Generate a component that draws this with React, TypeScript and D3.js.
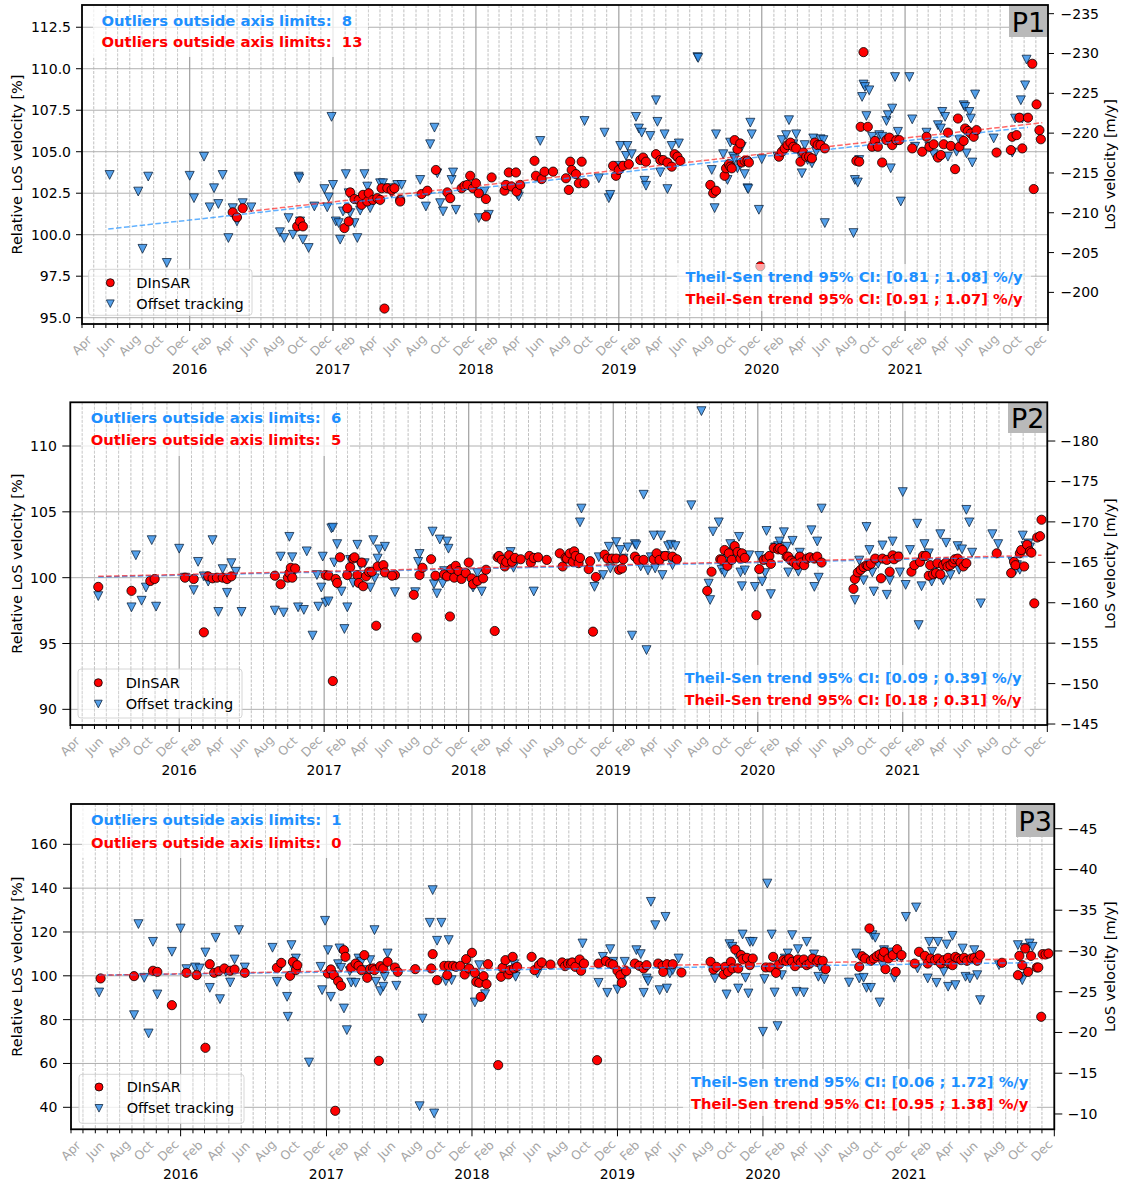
import React, { useEffect } from 'react';
import * as d3 from 'd3';

// ---------- DATA (decimal year, relative LoS velocity %) ----------
const p1Offset: [number, number][] = [
  [2015.44,103.6],[2015.64,102.6],[2015.67,99.15],[2015.71,103.5],[2015.84,98.3],[2016.0,103.55],[2016.03,102.2],[2016.10,104.7],[2016.17,102.8],[2016.14,101.65],[2016.20,101.85],[2016.23,103.6],[2016.27,99.8],[2016.30,101.6],[2016.33,100.8],[2016.37,101.9],[2016.43,101.65],[2016.63,100.15],[2016.66,99.8],[2016.69,101.0],[2016.72,100.0],[2016.76,103.5],[2016.765,103.4],[2016.77,100.8],[2016.79,99.7],[2016.83,99.2],[2016.87,101.7],[2016.94,102.75],[2016.97,102.25],[2016.96,101.65],[2017.0,103.0],[2016.99,107.1],[2017.02,100.8],[2017.04,100.7],[2017.05,99.7],[2017.07,101.4],[2017.09,103.65],[2017.11,102.5],[2017.12,101.3],[2017.15,100.7],[2017.17,99.8],[2017.19,101.45],[2017.22,103.65],[2017.24,102.9],[2017.26,101.6],[2017.33,103.1],[2017.35,103.1],[2017.39,102.8],[2017.41,102.5],[2017.45,103.0],
  [2017.48,103.0],[2017.61,103.3],[2017.65,101.7],[2017.68,105.45],[2017.71,106.45],[2017.73,103.7],[2017.75,101.9],[2017.77,101.4],[2017.83,103.3],[2017.84,103.75],[2017.86,101.5],[2018.02,101.0],[2018.06,102.6],[2018.09,101.2],[2018.29,102.4],[2018.30,102.3],[2018.45,105.65],[2018.76,106.85],[2018.86,103.4],[2018.90,106.15],[2018.93,102.2],[2018.94,102.4],[2019.01,105.35],[2019.06,105.35],[2019.05,104.75],[2019.09,104.85],[2019.0,104.15],[2019.12,107.1],[2019.14,106.4],[2019.16,106.15],[2019.18,103.25],[2019.19,102.95],[2019.22,105.95],[2019.26,108.1],[2019.27,106.8],[2019.29,103.75],[2019.32,106.05],[2019.34,102.75],[2019.37,105.35],[2019.39,104.7],[2019.42,105.5],[2019.55,110.7],[2019.555,110.65],[2019.65,103.9],[2019.67,101.6],[2019.68,106.05],
  [2019.73,104.85],[2019.76,103.3],[2019.78,105.55],[2019.80,104.7],[2019.81,104.55],[2019.83,104.0],[2019.85,104.2],[2019.86,105.3],[2019.88,103.65],[2019.90,102.8],[2019.905,102.75],[2019.92,106.75],[2019.93,106.05],[2019.98,101.5],[2020.0,104.55],[2020.11,104.7],[2020.14,105.7],[2020.17,106.0],[2020.19,106.9],[2020.22,105.45],[2020.24,106.05],[2020.27,104.8],[2020.28,103.7],[2020.30,105.4],[2020.32,104.5],[2020.35,104.3],[2020.36,105.8],[2020.38,105.0],[2020.41,105.75],[2020.43,105.7],[2020.44,100.7],[2020.64,100.1],[2020.65,103.3],[2020.67,103.15],[2020.68,104.5],[2020.70,108.3],[2020.71,109.05],[2020.72,108.9],[2020.75,108.7],[2020.73,107.15],[2020.77,105.9],[2020.79,105.4],[2020.82,106.0],[2020.84,105.9],[2020.87,106.85],[2020.88,107.2],[2020.90,104.0],[2020.91,107.6],[2020.93,109.5],[2020.95,106.2],[2020.97,102.0],[2021.03,109.5],[2021.05,106.95],[2021.07,105.3],[2021.15,106.15],[2021.17,105.3],[2021.20,104.85],[2021.23,106.6],[2021.25,106.4],[2021.26,107.4],[2021.28,107.1],[2021.30,104.7],[2021.36,105.0],[2021.38,105.7],[2021.41,107.8],[2021.42,107.7],[2021.43,104.9],[2021.45,107.4],[2021.46,107.0],[2021.47,104.35],[2021.49,108.45],[2021.62,105.8],[2021.75,104.95],[2021.77,107.0],[2021.81,108.1],[2021.82,107.0],[2021.84,109.0],[2021.85,110.55]
];
const p1Dinsar: [number, number][] = [
  [2016.30,101.35],[2016.33,101.05],[2016.37,101.6],[2016.75,100.5],[2016.77,100.8],[2016.79,100.5],[2017.08,100.4],[2017.10,101.6],[2017.11,100.8],[2017.12,102.55],[2017.15,102.15],[2017.18,102.1],[2017.20,101.8],[2017.21,102.4],[2017.24,102.0],[2017.25,102.5],[2017.28,102.1],[2017.31,102.2],[2017.33,102.1],[2017.34,102.8],[2017.38,102.8],[2017.41,102.7],[2017.43,102.8],[2017.47,102.1],[2017.36,95.55],
  [2017.47,102.0],[2017.62,102.45],[2017.66,102.65],[2017.72,103.9],[2017.80,102.55],[2017.82,102.2],[2017.90,102.8],[2017.92,102.95],[2017.94,103.0],[2017.96,103.55],[2017.98,102.8],[2018.0,103.1],[2018.02,102.5],[2018.07,102.15],[2018.11,103.45],[2018.07,101.1],[2018.20,102.65],[2018.21,103.0],[2018.23,103.75],[2018.25,102.9],[2018.28,103.75],[2018.285,102.6],[2018.31,103.0],[2018.41,104.45],[2018.42,103.55],[2018.46,103.35],[2018.48,103.8],[2018.54,103.8],[2018.63,103.4],[2018.65,102.7],[2018.66,104.4],[2018.67,103.9],[2018.70,103.65],[2018.72,103.1],[2018.74,104.4],[2018.76,103.1],[2018.96,104.15],[2018.98,103.55],[2019.0,103.9],[2019.03,104.15],[2019.07,104.25],[2019.15,104.5],[2019.17,104.65],[2019.19,104.4],[2019.26,104.85],[2019.29,104.5],[2019.31,104.5],[2019.34,104.35],[2019.37,104.1],[2019.39,104.85],[2019.41,104.7],[2019.43,104.45],[2019.64,103.0],[2019.66,102.5],[2019.68,102.65],
  [2019.74,103.55],[2019.75,104.0],[2019.77,104.25],[2019.78,104.1],[2019.79,104.0],[2019.81,105.7],[2019.83,105.15],[2019.85,105.5],[2019.86,104.35],[2019.88,104.45],[2019.90,104.45],[2019.91,104.35],[2019.99,98.1],[2020.12,104.7],[2020.14,105.0],[2020.16,105.2],[2020.18,105.4],[2020.20,105.55],[2020.22,105.3],[2020.24,105.2],[2020.27,104.4],[2020.29,104.95],[2020.31,104.7],[2020.33,104.7],[2020.35,104.6],[2020.37,105.55],[2020.39,105.4],[2020.41,105.4],[2020.44,105.2],[2020.66,104.45],[2020.68,104.4],[2020.69,106.5],[2020.71,111.0],[2020.74,106.5],[2020.77,105.3],[2020.79,105.65],[2020.81,105.3],[2020.84,104.35],[2020.87,105.7],[2020.89,105.85],[2020.91,105.4],[2020.94,105.7],[2020.96,105.7],[2021.05,105.2],[2021.12,105.0],[2021.15,105.9],[2021.17,105.3],[2021.20,105.45],[2021.23,104.65],[2021.25,104.8],[2021.27,105.45],[2021.30,106.15],[2021.32,105.35],[2021.35,103.95],[2021.37,107.0],[2021.38,105.3],[2021.41,105.65],[2021.42,106.4],[2021.44,106.25],[2021.46,106.1],[2021.48,105.9],[2021.50,106.3],[2021.64,104.95],[2021.74,105.1],[2021.75,105.9],[2021.78,106.0],[2021.80,107.05],[2021.82,105.2],[2021.86,107.05],[2021.89,110.3],[2021.90,102.75],[2021.92,107.85],[2021.94,106.3],[2021.95,105.75]
];
const p2Offset: [number, number][] = [
  [2015.44,98.6],[2015.67,97.75],[2015.70,101.7],[2015.74,98.25],[2015.77,99.25],[2015.81,102.85],[2015.84,97.8],[2016.0,102.2],[2016.04,100.0],[2016.10,99.05],[2016.13,101.2],[2016.17,100.1],[2016.20,99.7],[2016.23,102.85],[2016.27,97.4],[2016.30,100.65],[2016.33,98.85],[2016.36,101.1],[2016.39,100.45],[2016.43,97.4],[2016.66,97.5],[2016.70,101.6],[2016.72,97.35],[2016.76,103.1],[2016.78,101.55],[2016.79,100.35],[2016.82,97.75],[2016.86,97.55],[2016.88,102.0],[2016.92,95.6],[2016.95,100.2],[2016.96,97.8],[2016.98,99.25],[2016.99,101.6],[2017.01,98.1],[2017.03,98.2],[2017.05,103.75],[2017.06,103.8],[2017.07,101.15],[2017.09,102.55],[2017.12,98.95],[2017.14,96.1],[2017.16,97.75],[2017.18,101.35],[2017.20,99.6],[2017.23,102.5],[2017.25,100.95],[2017.28,101.1],[2017.32,99.25],[2017.34,102.85],[2017.35,99.95],[2017.37,101.45],[2017.38,102.15],[2017.42,102.35],[2017.49,98.9],
  [2017.63,98.9],[2017.65,101.2],[2017.66,101.8],[2017.75,103.5],[2017.76,99.5],[2017.78,98.8],[2017.80,102.9],[2017.82,99.55],[2017.83,100.5],[2017.85,102.75],[2017.86,102.2],[2018.03,99.25],[2018.06,100.35],[2018.09,98.95],[2018.29,101.95],[2018.31,100.75],[2018.45,98.95],[2018.77,104.2],[2018.78,105.25],[2018.87,99.3],[2018.90,101.55],[2018.93,100.2],[2018.97,102.35],[2018.98,100.7],[2019.02,102.7],[2019.05,102.1],[2019.07,101.45],[2019.10,102.3],[2019.13,95.6],[2019.15,102.55],[2019.16,102.45],[2019.19,100.85],[2019.21,106.3],[2019.23,94.5],[2019.24,100.55],[2019.26,101.55],[2019.28,103.2],[2019.29,100.7],[2019.31,101.55],[2019.33,103.2],[2019.34,100.2],[2019.36,101.65],[2019.38,102.4],[2019.40,102.5],[2019.41,100.95],[2019.43,102.4],[2019.54,105.5],[2019.61,112.65],[2019.66,99.55],[2019.67,98.3],[2019.69,103.5],[2019.73,104.2],
  [2019.75,100.6],[2019.77,100.35],[2019.79,101.45],[2019.81,102.55],[2019.83,101.95],[2019.84,101.45],[2019.87,103.1],[2019.88,100.4],[2019.89,99.35],[2019.91,100.55],[2019.94,101.7],[2019.98,99.3],[2020.01,101.65],[2020.03,99.7],[2020.05,100.35],[2020.06,103.55],[2020.09,98.75],[2020.12,102.3],[2020.14,102.4],[2020.15,102.75],[2020.18,103.45],[2020.20,102.35],[2020.21,100.4],[2020.23,101.3],[2020.24,102.8],[2020.28,100.45],[2020.29,101.9],[2020.32,101.1],[2020.37,103.6],[2020.39,99.3],[2020.41,102.75],[2020.42,100.0],[2020.44,105.25],[2020.67,98.3],[2020.70,101.3],[2020.73,99.8],[2020.75,103.85],[2020.77,102.1],[2020.79,100.4],[2020.80,98.95],[2020.83,101.05],[2020.86,102.45],[2020.89,98.7],[2020.91,99.8],[2020.93,102.75],[2020.96,101.6],[2020.98,100.4],[2021.0,106.5],[2021.02,99.45],[2021.05,102.1],[2021.10,104.1],[2021.11,96.4],[2021.13,99.35],[2021.15,102.55],[2021.18,101.85],[2021.20,99.7],[2021.22,100.7],[2021.26,103.3],[2021.28,99.8],[2021.30,102.65],[2021.33,100.2],[2021.38,102.4],[2021.39,100.6],[2021.41,102.15],[2021.44,105.15],[2021.46,104.2],[2021.48,101.9],[2021.54,98.05],[2021.62,103.3],[2021.66,102.55],[2021.76,101.2],[2021.78,100.55],[2021.79,100.95],[2021.81,100.6],[2021.83,103.2],[2021.85,102.4],[2021.87,102.6],[2021.88,102.3]
];
const p2Dinsar: [number, number][] = [
  [2015.44,99.3],[2015.67,99.0],[2015.80,99.75],[2015.83,99.9],[2016.04,100.0],[2016.10,99.9],[2016.17,95.85],[2016.20,100.1],[2016.23,99.95],[2016.26,100.0],[2016.30,100.0],[2016.33,99.9],[2016.36,100.1],[2016.66,100.15],[2016.70,99.5],[2016.75,100.0],[2016.76,100.35],[2016.77,100.75],[2016.78,100.0],[2016.80,100.7],[2017.01,100.2],[2017.03,100.15],[2017.06,92.15],[2017.08,99.9],[2017.09,99.6],[2017.11,101.55],[2017.16,100.2],[2017.18,100.8],[2017.20,101.45],[2017.21,101.55],[2017.23,100.2],[2017.24,99.6],[2017.26,101.15],[2017.27,99.35],[2017.29,100.1],[2017.31,100.45],[2017.33,100.45],[2017.36,96.35],[2017.37,100.85],[2017.41,100.95],[2017.42,100.4],[2017.49,100.2],[2017.47,100.15],
  [2017.62,98.7],[2017.64,95.45],[2017.66,100.2],[2017.68,100.75],[2017.74,101.4],[2017.77,100.15],[2017.83,100.25],[2017.85,100.1],[2017.87,97.05],[2017.88,100.65],[2017.90,100.0],[2017.91,100.9],[2017.93,100.5],[2017.95,99.9],[2017.98,100.35],[2018.0,101.15],[2018.02,99.95],[2018.03,99.5],[2018.06,99.75],[2018.10,99.95],[2018.12,100.6],[2018.18,95.95],[2018.20,101.55],[2018.21,101.65],[2018.23,101.35],[2018.25,100.85],[2018.26,101.2],[2018.28,101.7],[2018.30,101.2],[2018.32,101.5],[2018.36,101.4],[2018.42,101.65],[2018.43,101.15],[2018.45,101.5],[2018.48,101.55],[2018.54,101.35],[2018.63,101.85],[2018.65,100.85],[2018.67,101.5],[2018.68,101.45],[2018.70,101.85],[2018.72,101.2],[2018.73,102.0],[2018.74,101.65],[2018.76,101.1],[2018.77,101.5],[2018.83,100.65],[2018.84,101.25],[2018.86,95.9],[2018.88,100.05],[2018.94,101.75],[2018.96,101.45],[2018.99,101.45],[2019.02,101.45],[2019.04,100.6],[2019.06,100.7],[2019.07,101.4],[2019.15,101.6],[2019.17,101.35],[2019.21,101.35],[2019.28,101.4],[2019.30,101.85],[2019.32,101.35],[2019.36,101.65],[2019.41,101.6],[2019.44,101.4],[2019.65,99.0],[2019.68,100.45],[2019.74,101.4],
  [2019.75,101.35],[2019.77,102.1],[2019.79,100.9],[2019.80,101.85],[2019.82,101.35],[2019.84,102.4],[2019.86,101.95],[2019.88,101.45],[2019.89,101.85],[2019.91,101.5],[2019.99,97.15],[2020.01,100.65],[2020.04,101.35],[2020.06,101.45],[2020.08,101.65],[2020.09,101.05],[2020.11,102.25],[2020.14,102.15],[2020.15,102.25],[2020.17,102.1],[2020.20,101.6],[2020.21,101.6],[2020.23,101.3],[2020.25,101.15],[2020.27,100.95],[2020.29,101.6],[2020.30,101.15],[2020.32,100.95],[2020.34,101.45],[2020.36,101.55],[2020.39,101.45],[2020.41,101.6],[2020.44,101.15],[2020.66,99.15],[2020.67,99.9],[2020.69,100.4],[2020.71,100.6],[2020.73,100.8],[2020.75,100.95],[2020.76,100.9],[2020.78,101.05],[2020.81,101.45],[2020.85,99.95],[2020.86,101.45],[2020.89,101.35],[2020.91,100.45],[2020.93,101.7],[2020.94,101.4],[2020.97,101.6],[2021.06,100.45],[2021.08,100.95],[2021.12,101.2],[2021.14,101.65],[2021.16,101.65],[2021.18,100.15],[2021.19,100.95],[2021.21,100.25],[2021.23,100.35],[2021.24,101.1],[2021.26,100.25],[2021.28,100.95],[2021.30,101.15],[2021.31,100.85],[2021.33,100.95],[2021.35,101.15],[2021.36,101.4],[2021.38,101.45],[2021.40,101.15],[2021.42,100.85],[2021.44,101.1],[2021.65,101.85],[2021.75,100.35],[2021.77,101.2],[2021.78,100.95],[2021.81,101.85],[2021.82,102.1],[2021.84,100.85],[2021.86,102.5],[2021.88,102.0],[2021.89,101.9],[2021.91,98.05],[2021.93,103.05],[2021.95,103.15],[2021.96,104.4]
];
const p3Offset: [number, number][] = [
  [2015.44,92.4],[2015.68,82.05],[2015.71,123.6],[2015.75,99.1],[2015.78,73.7],[2015.81,115.5],[2015.84,91.5],[2015.94,110.95],[2016.0,121.6],[2016.04,103.05],[2016.10,103.8],[2016.13,103.35],[2016.17,110.65],[2016.20,94.5],[2016.24,117.35],[2016.27,89.35],[2016.31,101.8],[2016.34,96.95],[2016.37,107.45],[2016.40,120.85],[2016.44,103.8],[2016.63,112.8],[2016.66,97.25],[2016.69,104.85],[2016.73,90.4],[2016.735,81.3],[2016.76,114.0],[2016.77,104.1],[2016.79,107.9],[2016.88,60.45],[2016.96,104.1],[2016.97,93.45],[2016.99,125.1],[2017.01,111.7],[2017.03,90.4],[2017.04,100.3],[2017.08,105.3],[2017.09,112.5],[2017.10,103.65],[2017.12,85.1],[2017.14,75.2],[2017.16,102.1],[2017.17,96.95],[2017.20,96.8],[2017.22,107.9],[2017.24,106.4],[2017.27,102.6],[2017.30,107.15],[2017.33,120.85],[2017.34,97.25],[2017.37,93.0],[2017.39,95.0],[2017.40,99.55],[2017.42,110.2],[2017.48,95.45],
  [2017.64,40.5],[2017.66,80.5],[2017.73,139.1],[2017.71,124.2],[2017.74,37.2],[2017.76,116.0],[2017.79,124.2],[2017.82,97.55],[2017.84,116.3],[2017.86,98.0],[2018.02,87.85],[2018.05,104.85],[2018.09,91.6],[2018.29,105.3],[2018.30,99.55],[2018.45,101.05],[2018.76,114.75],[2018.87,96.8],[2018.90,108.65],[2018.93,92.25],[2018.95,112.15],[2019.0,93.75],[2018.97,106.4],[2019.03,98.0],[2019.05,106.4],[2019.13,111.7],[2019.16,109.9],[2019.18,92.25],[2019.20,98.8],[2019.21,97.55],[2019.23,133.75],[2019.26,123.1],[2019.29,93.45],[2019.33,126.9],[2019.34,94.2],[2019.36,101.05],[2019.38,102.6],[2019.42,107.9],[2019.67,98.8],
  [2019.75,91.5],[2019.77,114.45],[2019.79,113.25],[2019.82,109.75],[2019.83,94.2],[2019.86,118.85],[2019.88,99.1],[2019.90,91.95],[2019.91,115.5],[2019.93,115.5],[2020.0,74.45],[2020.01,98.5],[2020.03,142.1],[2020.06,118.85],[2020.08,92.4],[2020.10,77.05],[2020.13,100.3],[2020.15,107.9],[2020.17,110.2],[2020.20,118.55],[2020.23,92.7],[2020.24,112.15],[2020.28,92.4],[2020.30,115.5],[2020.33,105.6],[2020.35,109.75],[2020.38,99.55],[2020.39,104.1],[2020.42,98.35],[2020.59,96.95],[2020.64,110.2],[2020.66,98.8],[2020.69,99.1],[2020.71,94.5],[2020.74,94.5],[2020.75,118.55],[2020.77,117.35],[2020.80,87.85],[2020.82,104.85],[2020.83,111.7],[2020.86,110.2],[2020.88,110.65],[2020.90,99.1],[2020.92,108.65],[2020.95,108.2],[2020.98,126.9],[2021.05,131.2],[2021.06,103.35],[2021.13,98.8],[2021.14,115.5],[2021.16,110.95],[2021.19,96.8],[2021.20,115.5],[2021.24,101.8],[2021.26,114.3],[2021.27,95.0],[2021.30,118.25],[2021.32,95.75],[2021.35,107.45],[2021.37,112.45],[2021.39,99.55],[2021.42,98.8],[2021.45,111.7],[2021.47,100.3],[2021.49,88.9],[2021.62,104.85],[2021.75,114.0],[2021.77,99.55],[2021.78,98.0],[2021.80,112.8],[2021.83,114.75],[2021.85,113.25]
];
const p3Dinsar: [number, number][] = [
  [2015.45,98.8],[2015.68,99.85],[2015.81,102.3],[2015.84,101.8],[2015.94,86.6],[2016.04,101.35],[2016.11,100.3],[2016.17,67.15],[2016.20,105.3],[2016.23,101.35],[2016.26,102.1],[2016.30,103.35],[2016.34,102.3],[2016.37,102.9],[2016.44,101.35],[2016.66,103.65],[2016.69,105.9],[2016.75,100.0],[2016.77,106.4],[2016.79,102.6],[2016.80,104.85],[2017.01,101.05],[2017.03,102.9],[2017.05,100.3],[2017.06,38.4],[2017.08,97.55],[2017.10,95.45],[2017.12,111.7],[2017.13,108.65],[2017.17,103.8],[2017.20,105.6],[2017.22,104.55],[2017.24,102.6],[2017.26,109.45],[2017.28,99.1],[2017.30,103.05],[2017.32,103.35],[2017.33,102.6],[2017.36,61.2],[2017.37,104.4],[2017.39,103.35],[2017.42,106.4],[2017.47,103.8],[2017.49,101.8],
  [2017.61,103.05],[2017.72,103.35],[2017.73,109.9],[2017.76,98.0],[2017.81,104.55],[2017.84,104.55],[2017.87,104.55],[2017.83,100.3],[2017.89,104.1],[2017.92,104.55],[2017.95,100.6],[2017.96,107.6],[2017.98,103.35],[2018.0,110.5],[2018.02,101.35],[2018.03,97.25],[2018.05,96.8],[2018.06,90.4],[2018.08,99.85],[2018.10,96.2],[2018.11,105.3],[2018.18,59.25],[2018.20,99.55],[2018.21,103.65],[2018.23,107.15],[2018.25,100.6],[2018.26,102.6],[2018.28,108.65],[2018.29,103.35],[2018.31,104.1],[2018.41,108.65],[2018.43,102.6],[2018.46,104.85],[2018.48,106.1],[2018.54,105.15],[2018.62,106.1],[2018.64,104.4],[2018.66,105.6],[2018.68,105.6],[2018.69,106.1],[2018.71,104.1],[2018.74,107.45],[2018.75,102.3],[2018.77,105.6],[2018.86,61.5],[2018.87,105.6],[2018.92,106.7],[2018.95,105.6],[2018.97,105.15],[2019.0,102.3],[2019.02,100.3],[2019.03,96.8],[2019.06,102.15],[2019.12,105.6],[2019.15,104.55],[2019.18,103.35],[2019.20,104.85],[2019.28,105.6],[2019.31,104.55],[2019.315,101.8],[2019.34,105.3],[2019.38,105.3],[2019.44,101.5],[2019.64,106.4],[2019.66,102.9],[2019.68,104.1],
  [2019.73,100.6],[2019.74,104.1],[2019.76,101.8],[2019.78,106.4],[2019.79,103.35],[2019.81,112.0],[2019.83,103.35],[2019.85,109.45],[2019.86,107.6],[2019.89,108.2],[2019.91,104.85],[2019.93,107.9],[2020.02,103.8],[2020.05,103.8],[2020.07,108.65],[2020.09,101.35],[2020.11,105.15],[2020.14,107.15],[2020.16,106.7],[2020.18,107.9],[2020.20,106.4],[2020.22,104.4],[2020.24,107.45],[2020.26,105.95],[2020.28,107.45],[2020.30,104.85],[2020.32,105.6],[2020.34,107.9],[2020.37,106.4],[2020.38,107.15],[2020.41,106.85],[2020.43,103.05],[2020.66,104.1],[2020.68,108.95],[2020.70,107.9],[2020.73,121.6],[2020.74,106.85],[2020.76,107.9],[2020.78,108.95],[2020.80,109.75],[2020.82,108.65],[2020.83,110.95],[2020.84,103.05],[2020.86,107.9],[2020.89,109.45],[2020.91,101.8],[2020.92,112.15],[2020.95,109.45],[2021.04,105.6],[2021.07,110.95],[2021.11,109.1],[2021.13,105.6],[2021.15,107.9],[2021.18,107.15],[2021.20,107.9],[2021.22,105.6],[2021.24,107.15],[2021.27,108.2],[2021.28,105.6],[2021.30,104.85],[2021.32,108.65],[2021.34,107.9],[2021.36,107.15],[2021.38,108.2],[2021.40,106.85],[2021.43,107.9],[2021.45,108.2],[2021.47,106.85],[2021.49,109.45],[2021.64,105.95],[2021.75,100.3],[2021.76,109.1],[2021.78,104.85],[2021.80,112.45],[2021.82,101.8],[2021.84,109.1],[2021.88,103.8],[2021.89,103.8],[2021.91,81.3],[2021.92,109.9],[2021.94,109.75],[2021.96,110.2]
];

// Theil-Sen trend line end points [decimal year, %]
const p1TrendOffset: [number, number][] = [[2015.43, 100.34], [2021.86, 106.47]];
const p1TrendDinsar: [number, number][] = [[2016.30, 101.3], [2021.96, 106.75]];
const p2TrendOffset: [number, number][] = [[2015.44, 100.05], [2021.88, 101.6]];
const p2TrendDinsar: [number, number][] = [[2015.44, 100.1], [2021.96, 101.7]];
const p3TrendOffset: [number, number][] = [[2015.44, 100.3], [2021.85, 106.0]];
const p3TrendDinsar: [number, number][] = [[2015.45, 100.3], [2021.96, 107.9]];

// tick labels
const p1LeftTicks = [95, 97.5, 100, 102.5, 105, 107.5, 110, 112.5];
const p1RightTicks = [-200, -205, -210, -215, -220, -225, -230, -235];
const p2LeftTicks = [90, 95, 100, 105, 110];
const p2RightTicks = [-145, -150, -155, -160, -165, -170, -175, -180];
const p3LeftTicks = [40, 60, 80, 100, 120, 140, 160];
const p3RightTicks = [-10, -15, -20, -25, -30, -35, -40, -45];
const yearLabels = [2016, 2017, 2018, 2019, 2020, 2021];
const monthNames = ['Jan','Feb','Mar','Apr','May','Jun','Jul','Aug','Sep','Oct','Nov','Dec'];
const labelledMonths = ['Feb','Apr','Jun','Aug','Oct','Dec'];

const panelNames = ['P1', 'P2', 'P3'];
const outliersOffset = [8, 6, 1];
const outliersDinsar = [13, 5, 0];
const ciOffset = ['[0.81 ; 1.08]', '[0.09 ; 0.39]', '[0.06 ; 1.72]'];
const ciDinsar = ['[0.91 ; 1.07]', '[0.18 ; 0.31]', '[0.95 ; 1.38]'];

// ---------- layout ----------
const FONT = '"DejaVu Sans", "Liberation Sans", sans-serif';
const BLUE = '#1e90ff';
const layouts = [
  { left: 82, right: 1048, top: 5, bottom: 324, leftDom: [94.62, 113.84], rightDom: [-196.03, -236.09], leftFmt: '.1f',
    lgap: 11, rgap: 12.5, tick: 6,
    out: { x: 101.5, y1: 20, y2: 41, bx0: 93, bx1: 368, by1: 57 },
    ts: { x: 1022.7, y1: 276, y2: 298, bx0: 677, bx1: 1031, by0: 264, by1: 311 },
    lg: { x0: 88.7, x1: 252, y0: 269.3, y1: 315.3, mx: 110.3, r1: 282.7, r2: 303.7, tx: 136.3 },
    pl: { x0: 1009, x1: 1048, y0: 5, y1: 37 } },
  { left: 70.3, right: 1047.3, top: 402.3, bottom: 725, leftDom: [88.81, 113.32], rightDom: [-144.88, -184.79], leftFmt: 'd',
    lgap: 13.5, rgap: 13, tick: 8,
    out: { x: 90.7, y1: 417, y2: 439, bx0: 81, bx1: 350, by1: 456 },
    ts: { x: 1021.7, y1: 677, y2: 699, bx0: 676, bx1: 1030, by0: 665, by1: 712 },
    lg: { x0: 78, x1: 242, y0: 669, y1: 718, mx: 98.3, r1: 682.7, r2: 704, tx: 125.7 },
    pl: { x0: 1008, x1: 1047.3, y0: 402.3, y1: 433 } },
  { left: 71, right: 1054.3, top: 804, bottom: 1129.3, leftDom: [29.96, 178.4], rightDom: [-8.12, -48.03], leftFmt: 'd',
    lgap: 13.7, rgap: 13.5, tick: 8,
    out: { x: 91, y1: 819, y2: 842, bx0: 82, bx1: 353, by1: 858 },
    ts: { x: 1028.3, y1: 1081, y2: 1103, bx0: 683, bx1: 1037, by0: 1069, by1: 1116 },
    lg: { x0: 79, x1: 244, y0: 1074.3, y1: 1123.3, mx: 99, r1: 1087, r2: 1108.3, tx: 126.7 },
    pl: { x0: 1016, x1: 1054.3, y0: 804, y1: 837 } },
];

const panelData = [
  { off: p1Offset, din: p1Dinsar, tOff: p1TrendOffset, tDin: p1TrendDinsar, lt: p1LeftTicks, rt: p1RightTicks },
  { off: p2Offset, din: p2Dinsar, tOff: p2TrendOffset, tDin: p2TrendDinsar, lt: p2LeftTicks, rt: p2RightTicks },
  { off: p3Offset, din: p3Dinsar, tOff: p3TrendOffset, tDin: p3TrendDinsar, lt: p3LeftTicks, rt: p3RightTicks },
];

function dy(v: number): Date {
  const yr = Math.floor(v);
  const a = Date.UTC(yr, 0, 1), b = Date.UTC(yr + 1, 0, 1);
  return new Date(a + (v - yr) * (b - a));
}
const minus = (s: string) => s.replace('-', '\u2212');

function tri(cx: number, cy: number, h = 4.4, w = 4.5) {
  return `M${cx - w},${cy - h}L${cx + w},${cy - h}L${cx},${cy + h}Z`;
}

const DASH = '3,1.4';

function Panel({ i }: { i: number }) {
  const L = layouts[i];
  const D = panelData[i];
  const t0 = new Date(Date.UTC(2015, 3, 1));
  const t1 = new Date(Date.UTC(2022, 0, 1));
  const x = d3.scaleUtc().domain([t0, t1]).range([L.left, L.right]);
  const y = d3.scaleLinear().domain(L.leftDom).range([L.bottom, L.top]);
  const y2 = d3.scaleLinear().domain(L.rightDom).range([L.bottom, L.top]);
  const months = d3.utcMonth.range(t0, new Date(Date.UTC(2022, 0, 2)));
  const minor = months.filter((m) => m.getUTCMonth() !== 0);
  const major = months.filter((m) => m.getUTCMonth() === 0);
  const fmtL = d3.format(L.leftFmt);
  const line = d3.line<[number, number]>().x((d) => x(dy(d[0]))).y((d) => y(d[1]));
  const clipId = `clip${i}`;
  const boxes = [
    { x0: L.out.bx0, x1: L.out.bx1, y0: L.top, y1: L.out.by1 },
    { x0: L.ts.bx0, x1: L.ts.bx1, y0: L.ts.by0, y1: L.ts.by1 },
    { x0: L.lg.x0, x1: L.lg.x1, y0: L.lg.y0, y1: L.lg.y1 },
  ];
  const midY = (L.top + L.bottom) / 2;
  return (
    <g>
      <defs>
        <clipPath id={clipId}>
          <rect x={L.left} y={L.top} width={L.right - L.left} height={L.bottom - L.top} />
        </clipPath>
      </defs>
      <g clipPath={`url(#${clipId})`}>
        {D.lt.map((v) => (
          <line key={'h' + v} x1={L.left} x2={L.right} y1={y(v)} y2={y(v)} stroke="#b0b0b0" strokeWidth={1} />
        ))}
        {major.map((m) => (
          <line key={'M' + m.getTime()} x1={x(m)} x2={x(m)} y1={L.top} y2={L.bottom} stroke="#a0a0a0" strokeWidth={1.2} />
        ))}
        {minor.map((m) => (
          <line key={'m' + m.getTime()} x1={x(m)} x2={x(m)} y1={L.top} y2={L.bottom} stroke="#b0b0b0" strokeWidth={0.8} strokeDasharray={DASH} />
        ))}
        {D.off.map((d, k) => (
          <path key={'o' + k} d={tri(x(dy(d[0])), y(d[1]))} fill="#2b8ae6" fillOpacity={0.8} stroke="#0b2038" strokeOpacity={0.85} strokeWidth={0.9} />
        ))}
        {D.din.map((d, k) => (
          <circle key={'d' + k} cx={x(dy(d[0]))} cy={y(d[1])} r={4.6} fill="#ff0000" stroke="#000" strokeWidth={0.8} />
        ))}
        <path d={line(D.tOff) || ''} fill="none" stroke={BLUE} strokeOpacity={0.7} strokeWidth={1.5} strokeDasharray="5.5,2.4" />
        <path d={line(D.tDin) || ''} fill="none" stroke="#ff0000" strokeOpacity={0.6} strokeWidth={1.5} strokeDasharray="5.5,2.4" />
        <rect x={boxes[0].x0} y={boxes[0].y0} width={boxes[0].x1 - boxes[0].x0} height={boxes[0].y1 - boxes[0].y0} fill="#fff" fillOpacity={0.75} />
        <rect x={boxes[1].x0} y={boxes[1].y0} width={boxes[1].x1 - boxes[1].x0} height={boxes[1].y1 - boxes[1].y0} fill="#fff" fillOpacity={0.65} />
        <rect x={boxes[2].x0} y={boxes[2].y0} width={boxes[2].x1 - boxes[2].x0} height={boxes[2].y1 - boxes[2].y0} rx={3} fill="#fff" fillOpacity={0.8} stroke="#d6d6d6" strokeWidth={1} />
        {boxes.map((b, bi) =>
          minor.filter((m) => x(m) > b.x0 + 1 && x(m) < b.x1 - 1).map((m) => (
            <line key={'bm' + bi + m.getTime()} x1={x(m)} x2={x(m)} y1={b.y0} y2={b.y1} stroke="#c4c4c4" strokeWidth={0.8} strokeDasharray={DASH} />
          ))
        )}
        <rect x={L.pl.x0} y={L.pl.y0} width={L.pl.x1 - L.pl.x0} height={L.pl.y1 - L.pl.y0} fill="#b9b9b9" />
      </g>
      <text x={(L.pl.x0 + L.pl.x1) / 2} y={(L.pl.y0 + L.pl.y1) / 2 + 1} fontFamily={FONT} fontSize={27} textAnchor="middle" dominantBaseline="central" fill="#000">{panelNames[i]}</text>
      <text x={L.out.x} y={L.out.y1} fontFamily={FONT} fontSize={14.8} fontWeight="bold" fill={BLUE} dominantBaseline="central" style={{ whiteSpace: 'pre' }}>{`Outliers outside axis limits:  ${outliersOffset[i]}`}</text>
      <text x={L.out.x} y={L.out.y2} fontFamily={FONT} fontSize={14.8} fontWeight="bold" fill="#ff0000" dominantBaseline="central" style={{ whiteSpace: 'pre' }}>{`Outliers outside axis limits:  ${outliersDinsar[i]}`}</text>
      <text x={L.ts.x} y={L.ts.y1} fontFamily={FONT} fontSize={14.7} fontWeight="bold" fill={BLUE} textAnchor="end" dominantBaseline="central">{`Theil-Sen trend 95% CI: ${ciOffset[i]} %/y`}</text>
      <text x={L.ts.x} y={L.ts.y2} fontFamily={FONT} fontSize={14.7} fontWeight="bold" fill="#ff0000" textAnchor="end" dominantBaseline="central">{`Theil-Sen trend 95% CI: ${ciDinsar[i]} %/y`}</text>
      <circle cx={L.lg.mx} cy={L.lg.r1} r={4} fill="#ff0000" stroke="#000" strokeWidth={0.8} />
      <path d={tri(L.lg.mx, L.lg.r2, 3.8, 3.9)} fill="#2b8ae6" fillOpacity={0.8} stroke="#0b2038" strokeOpacity={0.85} strokeWidth={0.9} />
      <text x={L.lg.tx} y={L.lg.r1} fontFamily={FONT} fontSize={14.5} dominantBaseline="central" fill="#000">DInSAR</text>
      <text x={L.lg.tx} y={L.lg.r2} fontFamily={FONT} fontSize={14.5} dominantBaseline="central" fill="#000">Offset tracking</text>
      <rect x={L.left} y={L.top} width={L.right - L.left} height={L.bottom - L.top} fill="none" stroke="#000" strokeWidth={1.8} />
      {D.lt.map((v) => (
        <g key={'lt' + v}>
          <line x1={L.left - L.tick} x2={L.left} y1={y(v)} y2={y(v)} stroke="#000" strokeWidth={1} />
          <text x={L.left - L.lgap} y={y(v)} fontFamily={FONT} fontSize={14} textAnchor="end" dominantBaseline="central" fill="#000">{fmtL(v)}</text>
        </g>
      ))}
      {D.rt.map((v) => (
        <g key={'rt' + v}>
          <line x1={L.right} x2={L.right + L.tick} y1={y2(v)} y2={y2(v)} stroke="#000" strokeWidth={1} />
          <text x={L.right + L.rgap} y={y2(v)} fontFamily={FONT} fontSize={14} textAnchor="start" dominantBaseline="central" fill="#000">{minus(String(v))}</text>
        </g>
      ))}
      {months.map((m) => (
        <line key={'bt' + m.getTime()} x1={x(m)} x2={x(m)} y1={L.bottom} y2={L.bottom + (m.getUTCMonth() === 0 ? 7 : 4)} stroke="#000" strokeWidth={1} />
      ))}
      {months.filter((m) => labelledMonths.includes(monthNames[m.getUTCMonth()]) && m < t1).map((m) => {
        const cx = x(m), cy = L.bottom + 21.5;
        return (
          <text key={'ml' + m.getTime()} x={cx} y={cy} transform={`rotate(-45 ${cx} ${cy})`} fontFamily={FONT} fontSize={12.3} textAnchor="middle" dominantBaseline="central" fill="#a6a6a6">{monthNames[m.getUTCMonth()]}</text>
        );
      })}
      {yearLabels.map((yr) => (
        <text key={'yl' + yr} x={x(new Date(Date.UTC(yr, 0, 1)))} y={L.bottom + 44.5} fontFamily={FONT} fontSize={13.9} textAnchor="middle" dominantBaseline="central" fill="#000">{yr}</text>
      ))}
      <text x={17} y={midY} transform={`rotate(-90 17 ${midY})`} fontFamily={FONT} fontSize={14.5} textAnchor="middle" dominantBaseline="central" fill="#000">Relative LoS velocity [%]</text>
      <text x={1110} y={midY} transform={`rotate(-90 1110 ${midY})`} fontFamily={FONT} fontSize={14.5} textAnchor="middle" dominantBaseline="central" fill="#000">LoS velocity [m/y]</text>
    </g>
  );
}

export default function App() {
  useEffect(() => {
    document.body.style.margin = '0';
    document.body.style.overflow = 'hidden';
  }, []);
  return (
    <svg width={1121} height={1183} style={{ position: 'absolute', left: 0, top: 0, background: '#fff' }} xmlns="http://www.w3.org/2000/svg">
      <rect x={0} y={0} width={1121} height={1183} fill="#fff" />
      {[0, 1, 2].map((i) => <Panel key={i} i={i} />)}
    </svg>
  );
}
